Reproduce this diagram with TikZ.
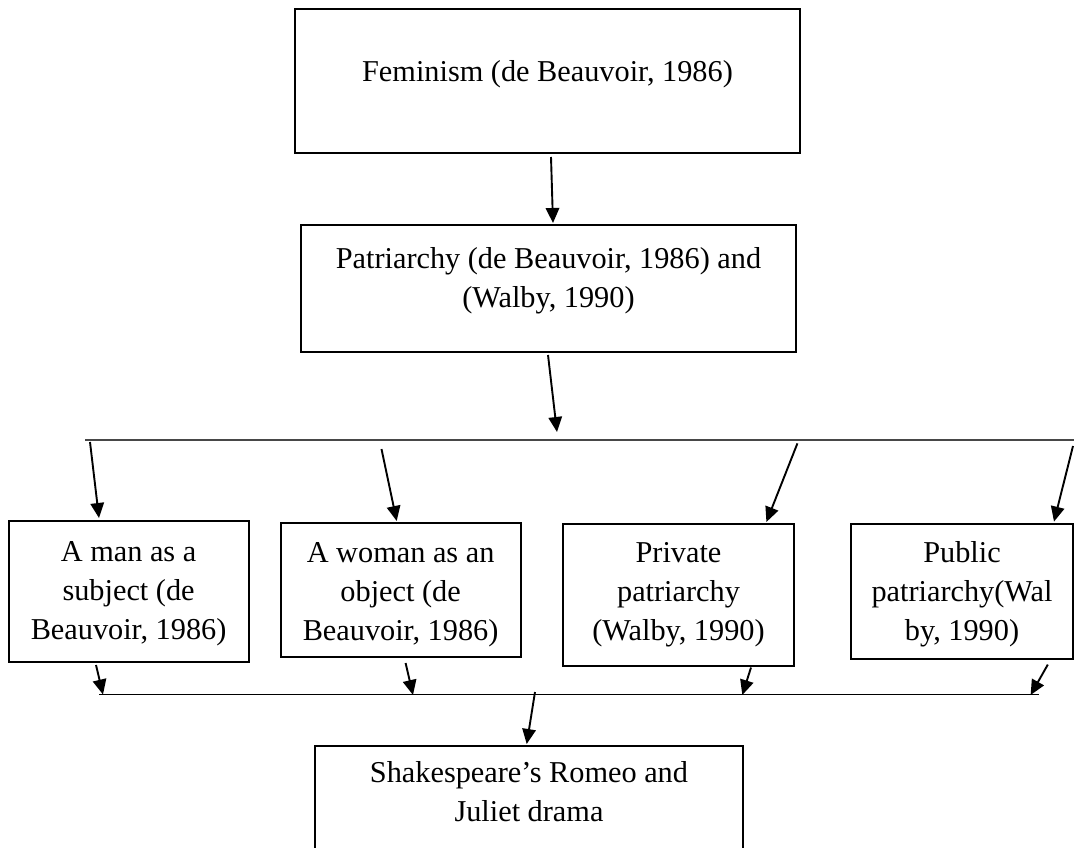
\documentclass[tikz,border=0pt]{standalone}
\usepackage{fontspec}
\setmainfont{Liberation Serif}
\usetikzlibrary{arrows.meta}
\begin{document}
\begin{tikzpicture}[x=1pt,y=-1pt,
  box/.style={draw, line width=2pt, inner sep=0pt, anchor=north, align=flush center,
    font=\fontsize{30.3}{39}\selectfont},
  arr/.style={line width=1.9pt, -{Triangle[length=15pt,width=13.5pt]}},
  busline/.style={line width=1.3pt}]
\useasboundingbox (0,0) rectangle (1074,848);
\clip (0,0) rectangle (1074,848);
% boxes
\node[box, text width=505pt, text height=73pt, text depth=71pt] (f) at (547.5,8) {Feminism (de Beauvoir, 1986)};
\node[box, text width=495pt, text height=43pt, text depth=84pt] (p) at (548.5,224) {Patriarchy (de Beauvoir, 1986) and\\(Walby, 1990)};
\node[box, text width=240pt, text height=40pt, text depth=101pt] (a) at (128.6,520) {A man as a\\subject (de\\Beauvoir, 1986)};
\node[box, text width=240pt, text height=39.6pt, text depth=94.4pt] (b) at (400.6,522) {A woman as an\\object (de\\Beauvoir, 1986)};
\node[box, text width=231pt, text height=38.6pt, text depth=102.9pt] (c) at (678.5,523) {Private\\patriarchy\\(Walby, 1990)};
\node[box, text width=222pt, text height=38.4pt, text depth=96.6pt] (d) at (962,522.6) {Public\\patriarchy(Wal\\by, 1990)};
\node[box, text width=428pt, text height=36pt, text depth=100pt] (e) at (529,745) {Shakespeare’s Romeo and\\Juliet drama};
% bus lines
\coordinate (b1l) at (85,440);
\coordinate (b1r) at (1074,440);
\coordinate (b2l) at (99,694.5);
\coordinate (b2r) at (1038.5,694.5);
\draw[busline, draw=black!72] (b1l) -- (b1r);
\draw[busline] (b2l) -- (b2r);
% points on the buses
\coordinate (t0) at (557,432);
\coordinate (s1) at (90,442);
\coordinate (s2) at (381.5,449);
\coordinate (s3) at (797.4,443.4);
\coordinate (s4) at (1073,446);
\coordinate (u1) at (103,694.5);
\coordinate (u2) at (413,695);
\coordinate (u3) at (742.3,695);
\coordinate (u4) at (1030.6,695);
\coordinate (s5) at (535,692);
% connectors
\draw[arr] ([xshift=3.5pt,yshift=-3pt]f.south) -- ([xshift=4.5pt,yshift=1pt]p.north);
\draw[arr] ([xshift=-0.5pt,yshift=-2pt]p.south) -- (t0);
\draw[arr] (s1) -- ([xshift=-29.6pt,yshift=2pt]a.north);
\draw[arr] (s2) -- ([xshift=-3.9pt,yshift=1pt]b.north);
\draw[arr] (s3) -- ([xshift=87.9pt,yshift=1pt]c.north);
\draw[arr] (s4) -- ([xshift=92pt,yshift=1pt]d.north);
\draw[arr] ([xshift=-32.6pt,yshift=-2pt]a.south) -- (u1);
\draw[arr] ([xshift=5pt,yshift=-5pt]b.south) -- (u2);
\draw[arr] ([xshift=72.5pt,yshift=-1pt]c.south) -- (u3);
\draw[arr] ([xshift=85.8pt,yshift=-5pt]d.south) -- (u4);
\draw[arr] (s5) -- ([xshift=-2.3pt,yshift=1pt]e.north);
\end{tikzpicture}
\end{document}
